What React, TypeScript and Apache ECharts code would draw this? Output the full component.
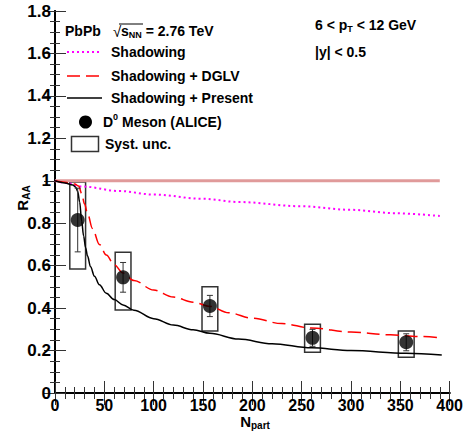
import React, { useEffect, useRef } from "react";
import * as echarts from "echarts";

// ---- data ----
const shadowingN = [0, 10, 28, 65, 100, 150, 186, 250, 300, 345, 390];
const shadowingR = [1.0, 0.99, 0.973, 0.952, 0.935, 0.915, 0.9, 0.88, 0.863, 0.847, 0.834];

const dglvN = [0, 10, 20, 24, 27, 30, 33, 38, 45, 52, 60, 69, 80, 100, 120, 140, 157, 176, 200, 230, 260, 300, 340, 370, 392];
const dglvR = [1.0, 0.993, 0.985, 0.975, 0.94, 0.89, 0.845, 0.775, 0.7, 0.65, 0.605, 0.565, 0.53, 0.485, 0.452, 0.428, 0.408, 0.378, 0.352, 0.327, 0.306, 0.287, 0.274, 0.266, 0.26];

const presentN = [0, 10, 18, 21, 23, 25, 27, 29, 31, 33, 36, 40, 45, 52, 60, 69, 80, 100, 120, 140, 157, 186, 220, 260, 300, 356, 392];
const presentR = [1.0, 0.99, 0.98, 0.97, 0.95, 0.9, 0.81, 0.74, 0.685, 0.645, 0.595, 0.55, 0.51, 0.47, 0.44, 0.415, 0.39, 0.35, 0.32, 0.298, 0.281, 0.254, 0.232, 0.213, 0.2, 0.187, 0.179];

const unityN = [0, 390];
const unityR = [1, 1];

const mesonN = [23, 69, 157, 261, 356];
const mesonR = [0.815, 0.545, 0.41, 0.26, 0.239];
const statErr = [0.15, 0.07, 0.05, 0.04, 0.04];
const systLow = [0.584, 0.391, 0.292, 0.192, 0.168];
const systHigh = [0.994, 0.663, 0.501, 0.324, 0.292];
const systHalfWidth = 8;

const xMin = 0, xMax = 400, xStep = 50;
const yMin = 0, yMax = 1.8, yStep = 0.2;

const FONT = "'Liberation Sans', Arial, Helvetica, sans-serif";

const zip = (a: number[], b: number[]) => a.map((v, i) => [v, b[i]]);

export default function App() {
  const ref = useRef<HTMLDivElement>(null);
  useEffect(() => {
    document.body.style.margin = "0";
    if (!ref.current) return;
    const chart = echarts.init(ref.current, null, { renderer: "svg" });

    const axisLine = { show: true, lineStyle: { color: "#000", width: 2 } };
    const tickStyle = { color: "#333", width: 1 };
    const xAxisBase = {
      type: "value" as const,
      min: xMin,
      max: xMax,
      interval: xStep,
      axisLine,
      axisTick: { show: true, inside: true, length: 12, lineStyle: tickStyle },
      minorTick: { show: true, splitNumber: 5, length: 6, lineStyle: tickStyle },
      splitLine: { show: false },
      minorSplitLine: { show: false },
    };
    const yAxisBase = {
      type: "value" as const,
      min: yMin,
      max: yMax,
      interval: yStep,
      axisLine,
      axisTick: { show: true, inside: true, length: 11, lineStyle: tickStyle },
      minorTick: { show: true, splitNumber: 4, length: 5, lineStyle: tickStyle },
      splitLine: { show: false },
      minorSplitLine: { show: false },
    };

    const mainRich = {
      m: { fontSize: 14, fontWeight: "bold", fontFamily: FONT, fill: "#000" },
      s: { fontSize: 9, fontWeight: "bold", fontFamily: FONT, fill: "#000", padding: [8, 0, 0, 0] },
      u: { fontSize: 9, fontWeight: "bold", fontFamily: FONT, fill: "#000", padding: [0, 0, 10, 0] },
    };
    const txt = (x: number, y: number, text: string, extra: any = {}) => ({
      type: "text",
      x,
      y,
      z: 100,
      style: {
        text,
        fontSize: 14,
        fontWeight: "bold",
        fontFamily: FONT,
        fill: "#000",
        textVerticalAlign: "middle",
        rich: mainRich,
        ...extra,
      },
    });
    const titleRich = {
      m: { fontSize: 15, fontWeight: "bold", fontFamily: FONT, fill: "#000" },
      s: { fontSize: 10, fontWeight: "bold", fontFamily: FONT, fill: "#000", padding: [9, 0, 0, 0] },
    };

    const curve = (name: string, n: number[], r: number[], lineStyle: any) => ({
      type: "line",
      name,
      z: 3,
      data: zip(n, r),
      showSymbol: false,
      smooth: 0.35,
      smoothMonotone: "x",
      lineStyle,
    });

    const option: any = {
      animation: false,
      backgroundColor: "#fff",
      grid: { left: 55, right: 13, top: 11, bottom: 44, containLabel: false },
      xAxis: [
        {
          ...xAxisBase,
          position: "bottom",
          axisLabel: { show: true, fontSize: 16, fontWeight: "bold", fontFamily: FONT, color: "#000", margin: 4 },
        },
        { ...xAxisBase, position: "top", axisLabel: { show: false } },
      ],
      yAxis: [
        {
          ...yAxisBase,
          position: "left",
          axisLabel: { show: true, fontSize: 17, fontWeight: "bold", fontFamily: FONT, color: "#000", margin: 4 },
        },
        { ...yAxisBase, position: "right", axisLabel: { show: false } },
      ],
      series: [
        {
          type: "custom",
          name: "Syst. unc.",
          z: 2,
          data: mesonN.map((n, i) => [n, systLow[i], systHigh[i]]),
          encode: { x: 0, y: [1, 2] },
          renderItem: (params: any, api: any) => {
            const x = api.value(0), lo = api.value(1), hi = api.value(2);
            const p1 = api.coord([x - systHalfWidth, hi]);
            const p2 = api.coord([x + systHalfWidth, lo]);
            return {
              type: "rect",
              shape: { x: p1[0], y: p1[1], width: p2[0] - p1[0], height: p2[1] - p1[1] },
              style: { fill: "none", stroke: "#333", lineWidth: 1.5 },
            };
          },
        },
        {
          type: "line",
          name: "unity",
          z: 3,
          data: zip(unityN, unityR),
          showSymbol: false,
          lineStyle: { color: "#e09a9a", width: 3 },
        },
        curve("Shadowing", shadowingN, shadowingR, { color: "#ff00ff", width: 2, type: [2, 3] }),
        curve("Shadowing + DGLV", dglvN, dglvR, { color: "#ff0000", width: 1.5, type: [13, 6] }),
        curve("Shadowing + Present", presentN, presentR, { color: "#000", width: 1.5 }),
        {
          type: "custom",
          name: "stat",
          z: 4,
          data: mesonN.map((n, i) => [n, mesonR[i] - statErr[i], mesonR[i] + statErr[i]]),
          encode: { x: 0, y: [1, 2] },
          renderItem: (params: any, api: any) => {
            const x = api.value(0), lo = api.value(1), hi = api.value(2);
            const pl = api.coord([x, lo]);
            const ph = api.coord([x, hi]);
            const c = 3;
            const st = { stroke: "#333", lineWidth: 1 };
            return {
              type: "group",
              children: [
                { type: "line", shape: { x1: pl[0], y1: pl[1], x2: ph[0], y2: ph[1] }, style: st },
                { type: "line", shape: { x1: pl[0] - c, y1: pl[1], x2: pl[0] + c, y2: pl[1] }, style: st },
                { type: "line", shape: { x1: ph[0] - c, y1: ph[1], x2: ph[0] + c, y2: ph[1] }, style: st },
              ],
            };
          },
        },
        {
          type: "scatter",
          name: "D0 Meson (ALICE)",
          z: 5,
          data: zip(mesonN, mesonR),
          symbol: "circle",
          symbolSize: 14,
          itemStyle: { color: "#000" },
        },
      ],
      graphic: [
        // header texts
        txt(65, 31, "PbPb"),
        txt(113, 31, "√", { fontWeight: "normal", fontSize: 15 }),
        txt(121, 31, "{m|s}{s|NN}{m| = 2.76 TeV}"),
        {
          type: "line",
          z: 100,
          shape: { x1: 119, y1: 24, x2: 143, y2: 24 },
          style: { stroke: "#000", lineWidth: 1 },
        },
        txt(315, 25, "{m|6 < p}{s|T}{m| < 12 GeV}"),
        txt(315, 52, "|y| < 0.5"),
        // legend
        {
          type: "line",
          z: 100,
          shape: { x1: 67, y1: 52, x2: 102, y2: 52 },
          style: { stroke: "#ff00ff", lineWidth: 2, lineDash: [2, 3] },
        },
        txt(111, 52, "Shadowing"),
        {
          type: "line",
          z: 100,
          shape: { x1: 67, y1: 76, x2: 102, y2: 76 },
          style: { stroke: "#ff0000", lineWidth: 1.5, lineDash: [13, 6] },
        },
        txt(111, 76, "Shadowing + DGLV"),
        {
          type: "line",
          z: 100,
          shape: { x1: 67, y1: 98, x2: 102, y2: 98 },
          style: { stroke: "#000", lineWidth: 1.5 },
        },
        txt(111, 98, "Shadowing + Present"),
        {
          type: "circle",
          z: 100,
          shape: { cx: 85.5, cy: 122, r: 6.5 },
          style: { fill: "#000" },
        },
        txt(103, 122, "{m|D}{u|0}{m| Meson (ALICE)}"),
        {
          type: "rect",
          z: 100,
          shape: { x: 71.5, y: 136.5, width: 27, height: 15 },
          style: { fill: "none", stroke: "#333", lineWidth: 1.5 },
        },
        txt(105, 144, "Syst. unc."),
        // axis titles
        txt(255, 421, "{m|N}{s|part}", { textAlign: "center", rich: titleRich }),
        {
          ...txt(0, 0, "{m|R}{s|AA}", { textAlign: "center", rich: titleRich }),
          x: 22,
          y: 198,
          rotation: Math.PI / 2,
        },
      ],
    };
    chart.setOption(option);
    return () => chart.dispose();
  }, []);
  return <div ref={ref} style={{ width: 466, height: 437 }} />;
}
